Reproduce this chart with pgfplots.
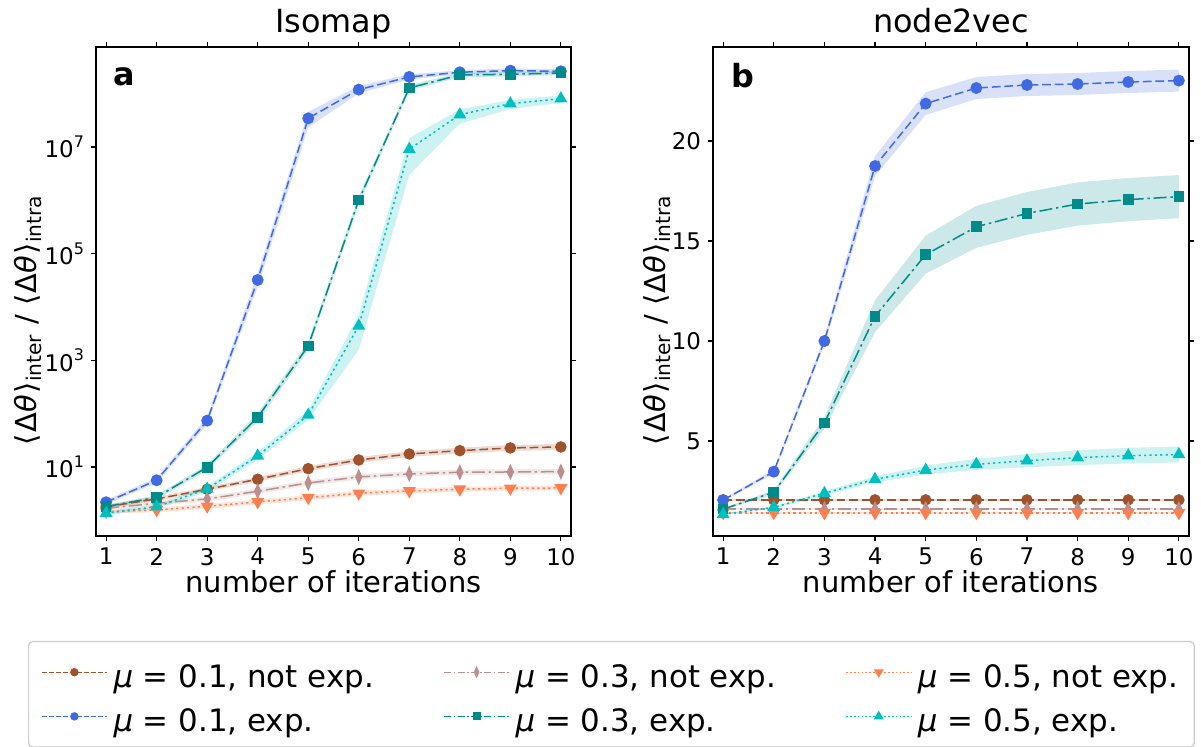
\documentclass[border=0pt]{standalone}
\usepackage{fontspec}
\setmainfont{DejaVu Sans}
\usepackage{pgfplots}
\pgfplotsset{compat=1.18}

\definecolor{csienna}{RGB}{160,82,45}
\definecolor{crosy}{RGB}{188,143,143}
\definecolor{ccoral}{RGB}{255,127,80}
\definecolor{cblue}{RGB}{65,105,225}
\definecolor{cteal}{RGB}{0,139,139}
\definecolor{ccyan}{RGB}{0,191,191}

\newcommand{\ylab}{⟨\hspace{0.8bp}Δ\textit{θ}\hspace{0.8bp}⟩\textsubscript{inter}\hspace{4.5bp}/\hspace{4.5bp}⟨\hspace{0.8bp}Δ\textit{θ}\hspace{0.8bp}⟩\textsubscript{intra}}

\pgfplotsset{
  dsh/.style={dash pattern=on 4.4bp off 1.9bp},
  dshdot/.style={dash pattern=on 6.5bp off 1.9bp on 1.2bp off 1.9bp},
  dtt/.style={dash pattern=on 1.1bp off 1.6bp},
  s1n/.style={csienna, line width=0.75bp, dsh, mark=*, mark size=2.5bp, mark options={solid, fill=csienna}},
  s3n/.style={crosy, line width=0.75bp, dshdot, mark=diamond*, mark size=3.2bp, mark options={solid, fill=crosy, xscale=0.6}},
  s5n/.style={ccoral, line width=0.75bp, dtt, mark=triangle*, mark size=3bp, mark options={solid, fill=ccoral, rotate=180}},
  s1e/.style={cblue, line width=0.75bp, dsh, mark=*, mark size=2.6bp, mark options={solid, fill=cblue}},
  s3e/.style={cteal, line width=0.75bp, dshdot, mark=square*, mark size=2.3bp, mark options={solid, fill=cteal}},
  s5e/.style={ccyan, line width=0.75bp, dtt, mark=triangle*, mark size=3bp, mark options={solid, fill=ccyan}},
  band/.style={fill=#1, fill opacity=0.2, draw=none, forget plot},
  panel/.style={
    scale only axis, height=244.5bp,
    xmin=0.8, xmax=10.2, xtick={1,2,3,4,5,6,7,8,9,10},
    tick align=outside, major tick length=2.5bp,
    tick style={black, line width=0.6bp},
    axis line style={line width=0.6bp},
    ticklabel style={font=\fontsize{11.5}{13}\selectfont},
    /pgf/number format/assume math mode=true,
    title style={at={(0.5,1)}, anchor=base, yshift=1.5bp, font=\fontsize{16}{19}\selectfont},
    xlabel style={at={(0.5,0)}, anchor=base, yshift=-28.5bp, font=\fontsize{14.5}{17}\selectfont},
    xlabel={number of iterations},
    ylabel={\ylab},
  },
}

\begin{document}
\begin{tikzpicture}
\useasboundingbox (0,0) rectangle (600.5bp,373.5bp);

% ---------------- Isomap ----------------
\begin{axis}[panel, at={(48bp,105.5bp)}, anchor=south west, width=237.5bp,
  ymode=log, ymin=0.507, ymax=7.5e8,
  ytick={1e1,1e3,1e5,1e7}, minor ytick={},
  yticklabels={10\raisebox{0.45em}{\fontsize{8}{9}\selectfont 1},10\raisebox{0.45em}{\fontsize{8}{9}\selectfont 3},10\raisebox{0.45em}{\fontsize{8}{9}\selectfont 5},10\raisebox{0.45em}{\fontsize{8}{9}\selectfont 7}},
  title={Isomap},
  ylabel style={at={(-0.1432,0.442)}, anchor=center, font=\fontsize{14.5}{17}\selectfont},
]
% bands
\addplot[band=cblue] coordinates {(1,2.39)(2,6.31)(3,86.7)(4,4.33e4)(5,4.55e7)(6,1.40e8)(7,2.31e8)(8,2.76e8)(9,2.96e8)(10,2.88e8)
 (10,2.40e8)(9,2.46e8)(8,2.30e8)(7,1.84e8)(6,1.01e8)(5,2.33e7)(4,2.38e4)(3,62.8)(2,5.01)(1,1.99)} -- cycle;
\addplot[band=cteal] coordinates {(1,1.93)(2,2.96)(3,11.06)(4,102.8)(5,2233)(6,1.21e6)(7,1.44e8)(8,2.46e8)(9,2.53e8)(10,2.68e8)
 (10,2.23e8)(9,2.11e8)(8,2.04e8)(7,1.14e8)(6,0.84e6)(5,1546)(4,71.1)(3,8.79)(2,2.46)(1,1.68)} -- cycle;
\addplot[band=ccyan] coordinates {(1,1.49)(2,1.97)(3,4.33)(4,18.9)(5,116)(6,7137)(7,1.47e7)(8,5.09e7)(9,7.62e7)(10,9.25e7)
 (10,6.71e7)(9,5.16e7)(8,2.73e7)(7,3.0e6)(6,1568)(5,76.7)(4,13.7)(3,3.44)(2,1.64)(1,1.24)} -- cycle;
\addplot[band=csienna] coordinates {(1,1.96)(2,2.74)(3,4.20)(4,6.50)(5,10.4)(6,15.3)(7,19.9)(8,23.0)(9,25.8)(10,27.0)
 (10,20.8)(9,20.0)(8,17.8)(7,15.4)(6,11.9)(5,8.30)(4,5.30)(3,3.47)(2,2.30)(1,1.66)} -- cycle;
\addplot[band=crosy] coordinates {(1,1.83)(2,2.30)(3,2.80)(4,3.93)(5,5.62)(6,7.28)(7,8.29)(8,8.92)(9,9.03)(10,9.16)
 (10,7.27)(9,7.17)(8,7.09)(7,6.59)(6,5.78)(5,4.47)(4,3.12)(3,2.25)(2,1.88)(1,1.54)} -- cycle;
\addplot[band=ccoral] coordinates {(1,1.57)(2,1.72)(3,2.03)(4,2.45)(5,2.94)(6,3.56)(7,3.94)(8,4.24)(9,4.41)(10,4.48)
 (10,3.64)(9,3.59)(8,3.44)(7,3.20)(6,2.89)(5,2.39)(4,1.99)(3,1.65)(2,1.41)(1,1.34)} -- cycle;
% lines
\addplot[s1n] coordinates {(1,1.80)(2,2.51)(3,3.82)(4,5.87)(5,9.29)(6,13.5)(7,17.5)(8,20.2)(9,22.7)(10,23.7)};
\addplot[s3n] coordinates {(1,1.68)(2,2.08)(3,2.51)(4,3.50)(5,5.01)(6,6.49)(7,7.39)(8,7.95)(9,8.05)(10,8.16)};
\addplot[s5n] coordinates {(1,1.45)(2,1.56)(3,1.83)(4,2.21)(5,2.65)(6,3.21)(7,3.55)(8,3.82)(9,3.98)(10,4.04)};
\addplot[s1e] coordinates {(1,2.18)(2,5.62)(3,73.8)(4,3.21e4)(5,3.45e7)(6,1.19e8)(7,2.06e8)(8,2.52e8)(9,2.70e8)(10,2.63e8)};
\addplot[s3e] coordinates {(1,1.80)(2,2.70)(3,9.86)(4,85.5)(5,1858)(6,1.01e6)(7,1.28e8)(8,2.24e8)(9,2.31e8)(10,2.44e8)};
\addplot[s5e] coordinates {(1,1.36)(2,1.80)(3,3.86)(4,16.1)(5,94.4)(6,4406)(7,9.06e6)(8,4.04e7)(9,6.49e7)(10,8.05e7)};
\node[anchor=base west, font=\fontsize{16}{19}\selectfont\bfseries] at (rel axis cs:0.021,0.922) {a};
\end{axis}

% ---------------- node2vec ----------------
\begin{axis}[panel, at={(356.5bp,105.5bp)}, anchor=south west, width=238bp,
  ymin=0.255, ymax=24.7, ytick={5,10,15,20},
  title={node2vec},
  ylabel style={at={(-0.1176,0.442)}, anchor=center, font=\fontsize{14.5}{17}\selectfont},
]
\addplot[band=cblue] coordinates {(1,2.11)(2,3.57)(3,10.2)(4,19.25)(5,22.44)(6,23.20)(7,23.35)(8,23.40)(9,23.50)(10,23.57)
 (10,22.47)(9,22.40)(8,22.30)(7,22.25)(6,22.10)(5,21.30)(4,18.25)(3,9.8)(2,3.37)(1,1.99)} -- cycle;
\addplot[band=cteal] coordinates {(1,1.65)(2,2.54)(3,6.21)(4,12.04)(5,15.27)(6,16.76)(7,17.45)(8,17.93)(9,18.15)(10,18.30)
 (10,16.14)(9,15.99)(8,15.77)(7,15.31)(6,14.66)(5,13.37)(4,10.44)(3,5.61)(2,2.34)(1,1.55)} -- cycle;
\addplot[band=ccyan] coordinates {(1,1.39)(2,1.74)(3,2.49)(4,3.24)(5,3.77)(6,4.12)(7,4.35)(8,4.54)(9,4.66)(10,4.73)
 (10,3.93)(9,3.88)(8,3.80)(7,3.69)(6,3.56)(5,3.33)(4,2.94)(3,2.29)(2,1.64)(1,1.29)} -- cycle;
\addplot[band=csienna] coordinates {(1,2.10)(10,2.10)(10,2.02)(1,2.02)} -- cycle;
\addplot[band=crosy] coordinates {(1,1.64)(10,1.64)(10,1.56)(1,1.56)} -- cycle;
\addplot[band=ccoral] coordinates {(1,1.45)(10,1.45)(10,1.37)(1,1.37)} -- cycle;
\addplot[s1n] coordinates {(1,2.06)(2,2.06)(3,2.06)(4,2.06)(5,2.06)(6,2.06)(7,2.06)(8,2.06)(9,2.06)(10,2.06)};
\addplot[s3n] coordinates {(1,1.60)(2,1.60)(3,1.60)(4,1.60)(5,1.60)(6,1.60)(7,1.60)(8,1.60)(9,1.60)(10,1.60)};
\addplot[s5n] coordinates {(1,1.41)(2,1.41)(3,1.41)(4,1.41)(5,1.41)(6,1.41)(7,1.41)(8,1.41)(9,1.41)(10,1.41)};
\addplot[s1e] coordinates {(1,2.05)(2,3.47)(3,10.0)(4,18.75)(5,21.87)(6,22.65)(7,22.80)(8,22.85)(9,22.95)(10,23.02)};
\addplot[s3e] coordinates {(1,1.60)(2,2.44)(3,5.91)(4,11.24)(5,14.32)(6,15.71)(7,16.38)(8,16.85)(9,17.07)(10,17.22)};
\addplot[s5e] coordinates {(1,1.34)(2,1.69)(3,2.39)(4,3.09)(5,3.55)(6,3.84)(7,4.02)(8,4.17)(9,4.27)(10,4.33)};
\node[anchor=base west, font=\fontsize{16}{19}\selectfont\bfseries] at (rel axis cs:0.025,0.918) {b};
\end{axis}

% ---------------- legend ----------------
\begin{axis}[at={(0bp,0bp)}, anchor=south west, scale only axis, width=600.5bp, height=53bp,
  hide axis, xmin=0, xmax=1, ymin=0, ymax=1,
  legend columns=3,
  legend image code/.code={\draw[mark repeat=2,mark phase=2,#1] plot coordinates {(0bp,0bp) (16.25bp,0bp) (32.5bp,0bp)};},
  legend style={at={(0.02331,1)}, anchor=north west, draw=black!20, rounded corners=2bp, line width=0.6bp,
    inner xsep=6.35bp, inner ysep=6bp, cells={anchor=west}, nodes={inner sep=0pt},
    column sep=0pt, row sep=3.5bp, font=\fontsize{15.5}{18}\selectfont},
]
\addlegendimage{csienna, line width=0.6bp, dash pattern=on 2.3bp off 1.2bp, mark=*, mark size=1.8bp, mark options={solid, fill=csienna}}
\addlegendentry{\makebox[168bp][l]{\hspace{3bp}\rule[-6.9bp]{0pt}{24bp}\textit{μ} = 0.1, not exp.}}
\addlegendimage{crosy, line width=0.6bp, dash pattern=on 3.5bp off 1.2bp on 0.8bp off 1.2bp, mark=diamond*, mark size=2.4bp, mark options={solid, fill=crosy, xscale=0.6}}
\addlegendentry{\makebox[168bp][l]{\hspace{3bp}\rule[-6.9bp]{0pt}{24bp}\textit{μ} = 0.3, not exp.}}
\addlegendimage{ccoral, line width=0.6bp, dash pattern=on 0.8bp off 1.1bp, mark=triangle*, mark size=2.3bp, mark options={solid, fill=ccoral, rotate=180}}
\addlegendentry{\makebox[134.8bp][l]{\hspace{3bp}\rule[-6.9bp]{0pt}{24bp}\textit{μ} = 0.5, not exp.}}
\addlegendimage{cblue, line width=0.6bp, dash pattern=on 2.3bp off 1.2bp, mark=*, mark size=1.8bp, mark options={solid, fill=cblue}}
\addlegendentry{\makebox[168bp][l]{\hspace{3bp}\rule[-6.9bp]{0pt}{24bp}\textit{μ} = 0.1, exp.}}
\addlegendimage{cteal, line width=0.6bp, dash pattern=on 3.5bp off 1.2bp on 0.8bp off 1.2bp, mark=square*, mark size=1.7bp, mark options={solid, fill=cteal}}
\addlegendentry{\makebox[168bp][l]{\hspace{3bp}\rule[-6.9bp]{0pt}{24bp}\textit{μ} = 0.3, exp.}}
\addlegendimage{ccyan, line width=0.6bp, dash pattern=on 0.8bp off 1.1bp, mark=triangle*, mark size=2.3bp, mark options={solid, fill=ccyan}}
\addlegendentry{\makebox[134.8bp][l]{\hspace{3bp}\rule[-6.9bp]{0pt}{24bp}\textit{μ} = 0.5, exp.}}
\end{axis}
\end{tikzpicture}
\end{document}
